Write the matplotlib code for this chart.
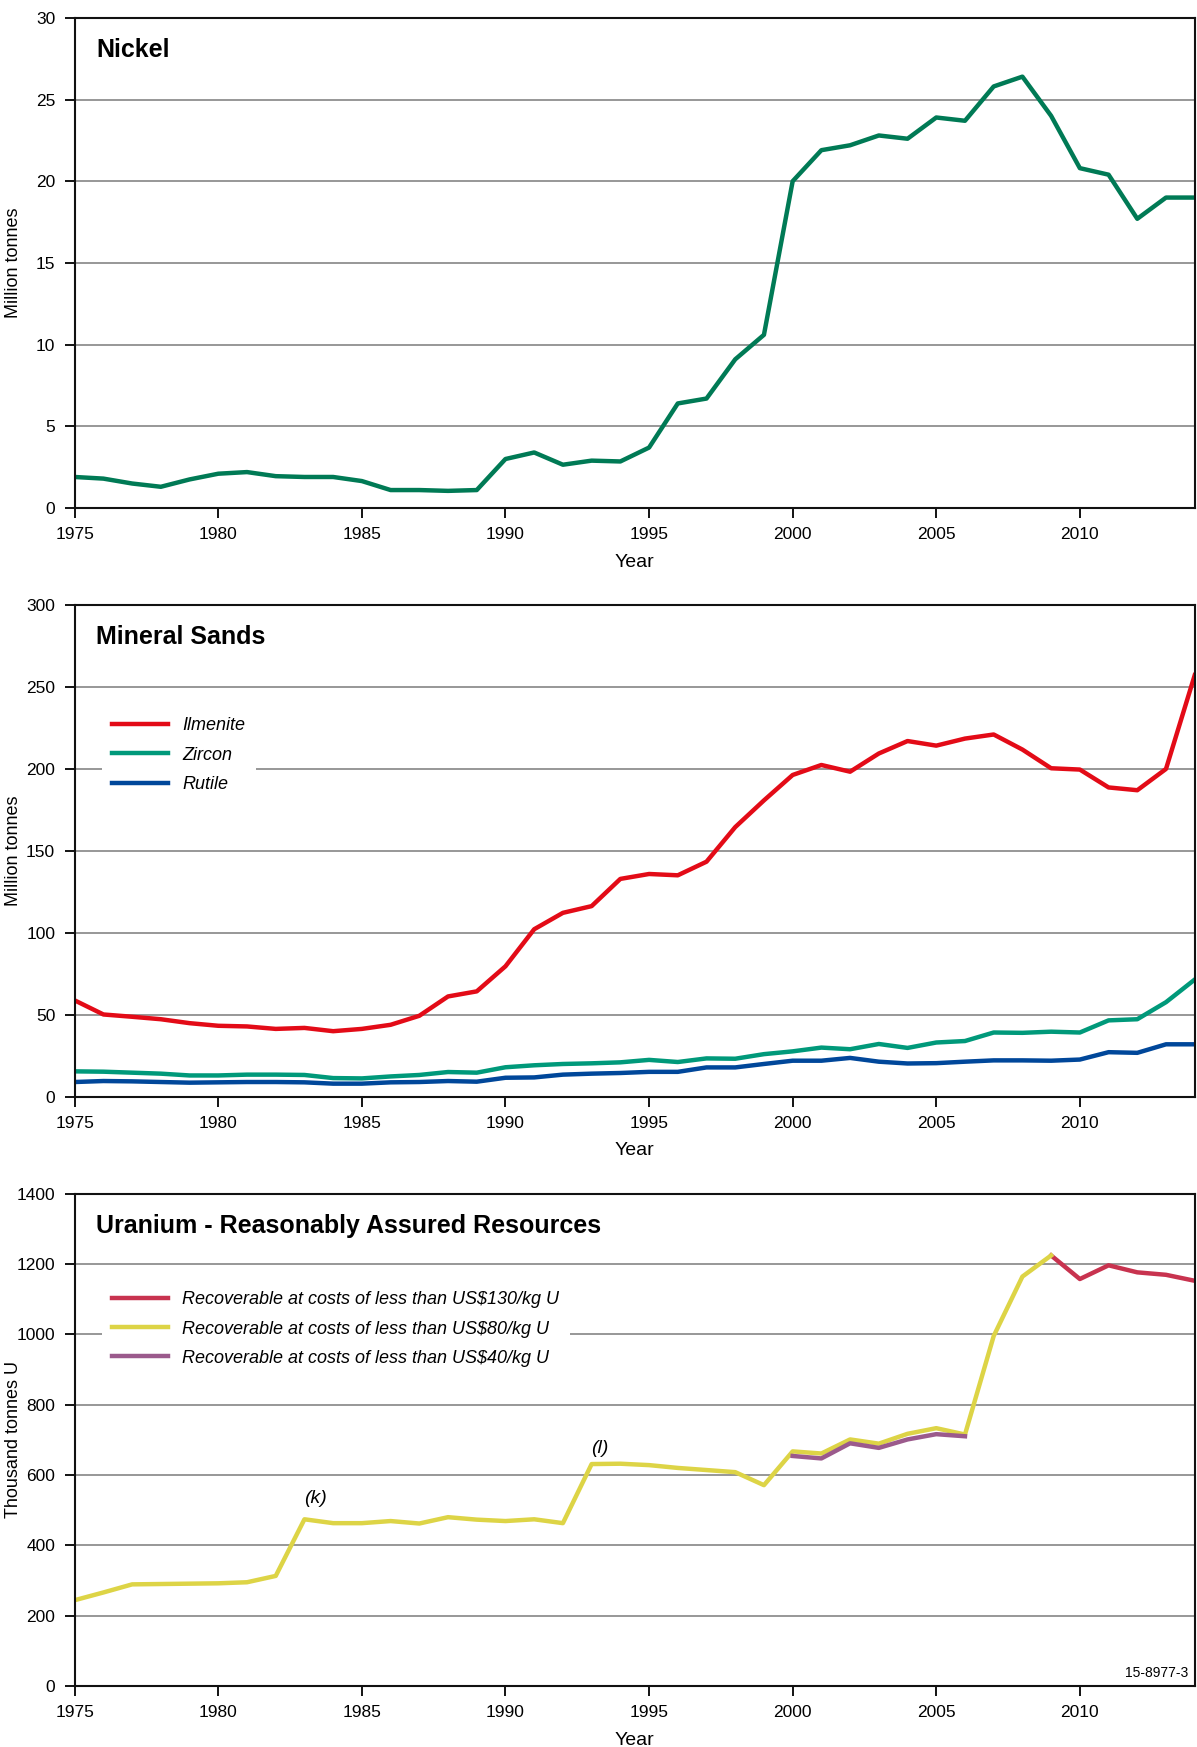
import matplotlib
matplotlib.use('Agg')
import matplotlib.pyplot as plt

years = list(range(1975, 2015))

nickel = [1.9, 1.8, 1.5, 1.3, 1.75, 2.1, 2.2, 1.95, 1.9, 1.9,
          1.65, 1.1, 1.1, 1.05, 1.1, 3.0, 3.4, 2.65, 2.9, 2.85,
          3.7, 6.4, 6.7, 9.1, 10.6, 20.0, 21.9, 22.2, 22.8, 22.6,
          23.9, 23.7, 25.8, 26.4, 24.0, 20.8, 20.4, 17.7, 19.0, 19.0]

ilmenite = [58.8, 50.2, 48.8, 47.3, 44.9, 43.3, 42.9, 41.4, 42.0, 40.0,
            41.4, 43.9, 49.4, 61.2, 64.3, 79.6, 102.2, 112.2, 116.3, 132.9,
            135.9, 135.1, 143.4, 164.5, 180.8, 196.3, 202.4, 198.3, 209.4, 217.0,
            214.2, 218.5, 221.0, 211.8, 200.4, 199.6, 188.7, 187.0, 200.0, 257.2]
zircon = [15.5, 15.3, 14.7, 14.1, 13.0, 13.0, 13.5, 13.5, 13.3, 11.4,
          11.2, 12.4, 13.3, 15.1, 14.7, 18.0, 19.2, 20.0, 20.4, 21.0,
          22.5, 21.2, 23.4, 23.2, 26.0, 27.7, 30.0, 29.0, 32.2, 29.8,
          33.1, 34.0, 39.2, 39.0, 39.7, 39.2, 46.6, 47.3, 57.7, 71.5]
rutile = [9.0, 9.6, 9.4, 9.0, 8.6, 8.8, 9.0, 9.0, 8.8, 8.0,
          8.0, 8.8, 9.0, 9.6, 9.2, 11.6, 11.8, 13.5, 14.1, 14.5,
          15.2, 15.2, 17.9, 17.9, 20.0, 22.0, 22.0, 23.7, 21.4, 20.3,
          20.5, 21.4, 22.2, 22.2, 22.0, 22.7, 27.2, 26.8, 32.0, 32.0]

u80_years = list(range(1975, 2010))
u80 = [244, 266, 289, 290, 291, 292, 295, 313, 474, 463,
       463, 469, 462, 480, 473, 469, 474, 463, 631, 632,
       628, 620, 614, 608, 571, 667, 661, 701, 689, 717,
       733, 715, 995, 1164, 1224]
u130_years = list(range(2009, 2015))
u130 = [1224, 1157, 1196, 1176, 1169, 1152]
u40_years = list(range(2000, 2007))
u40 = [654, 647, 690, 677, 701, 716, 710]

plt.rcParams['font.family'] = ['Liberation Sans', 'DejaVu Sans']
plt.rcParams['font.size'] = 12

fig = plt.figure(figsize=(11.97, 17.47), dpi=100)

left, width = 0.0624, 0.9357
ax_nickel = fig.add_axes([left, 0.7092, width, 0.2806])
ax_sands = fig.add_axes([left, 0.3722, width, 0.2815])
ax_uran = fig.add_axes([left, 0.0349, width, 0.2819])

legend_kw = dict(loc='upper left', frameon=True, fancybox=False, edgecolor='none',
                 facecolor='white', framealpha=1, handlelength=3.1, handletextpad=0.75,
                 labelspacing=0.68, borderpad=0.6,
                 prop={'style': 'italic', 'size': 13})


def style_axes(ax, ymax, ystep, ylabel, title):
    ax.set_xlim(1975, 2014)
    ax.set_ylim(0, ymax)
    ax.set_xticks(range(1975, 2011, 5))
    ax.set_yticks(range(0, ymax + 1, ystep))
    ax.yaxis.grid(True, color='#858585', linewidth=1.2)
    ax.set_axisbelow(True)
    for s in ax.spines.values():
        s.set_linewidth(1.5)
        s.set_color('#111111')
    ax.tick_params(direction='out', length=7, width=1.3, labelsize=12.5, pad=7)
    ax.set_xlabel('Year', fontsize=14, labelpad=8)
    ax.set_ylabel(ylabel, fontsize=13)
    ax.yaxis.set_label_coords(-0.047, 0.5)
    ax.text(0.019, 0.935, title, transform=ax.transAxes, fontsize=18,
            fontweight='bold', va='center', ha='left')


# Nickel
style_axes(ax_nickel, 30, 5, 'Million tonnes', 'Nickel')
ax_nickel.plot(years, nickel, color='#007a55', linewidth=3.2)

# Mineral sands
style_axes(ax_sands, 300, 50, 'Million tonnes', 'Mineral Sands')
ax_sands.plot(years, ilmenite, color='#e30b17', linewidth=3.2, label='Ilmenite')
ax_sands.plot(years, zircon, color='#00997a', linewidth=3.2, label='Zircon')
ax_sands.plot(years, rutile, color='#00479a', linewidth=3.2, label='Rutile')
ax_sands.legend(bbox_to_anchor=(0.016, 0.812), **legend_kw)

# Uranium
style_axes(ax_uran, 1400, 200, 'Thousand tonnes U', 'Uranium - Reasonably Assured Resources')
ax_uran.plot(u130_years, u130, color='#c8334f', linewidth=3.2,
             label='Recoverable at costs of less than US$130/kg U')
ax_uran.plot(u80_years, u80, color='#ddd446', linewidth=3.2,
             label='Recoverable at costs of less than US$80/kg U')
ax_uran.plot(u40_years, u40, color='#9b5a8c', linewidth=3.2,
             label='Recoverable at costs of less than US$40/kg U')
ax_uran.legend(bbox_to_anchor=(0.016, 0.842), **legend_kw)
ax_uran.text(1983.4, 520, '(k)', fontsize=14, style='italic', ha='center')
ax_uran.text(1993.3, 663, '(l)', fontsize=14, style='italic', ha='center')
ax_uran.text(0.994, 0.012, '15-8977-3', transform=ax_uran.transAxes, fontsize=10,
             ha='right', va='bottom')

fig.savefig('out.png', dpi=100)
